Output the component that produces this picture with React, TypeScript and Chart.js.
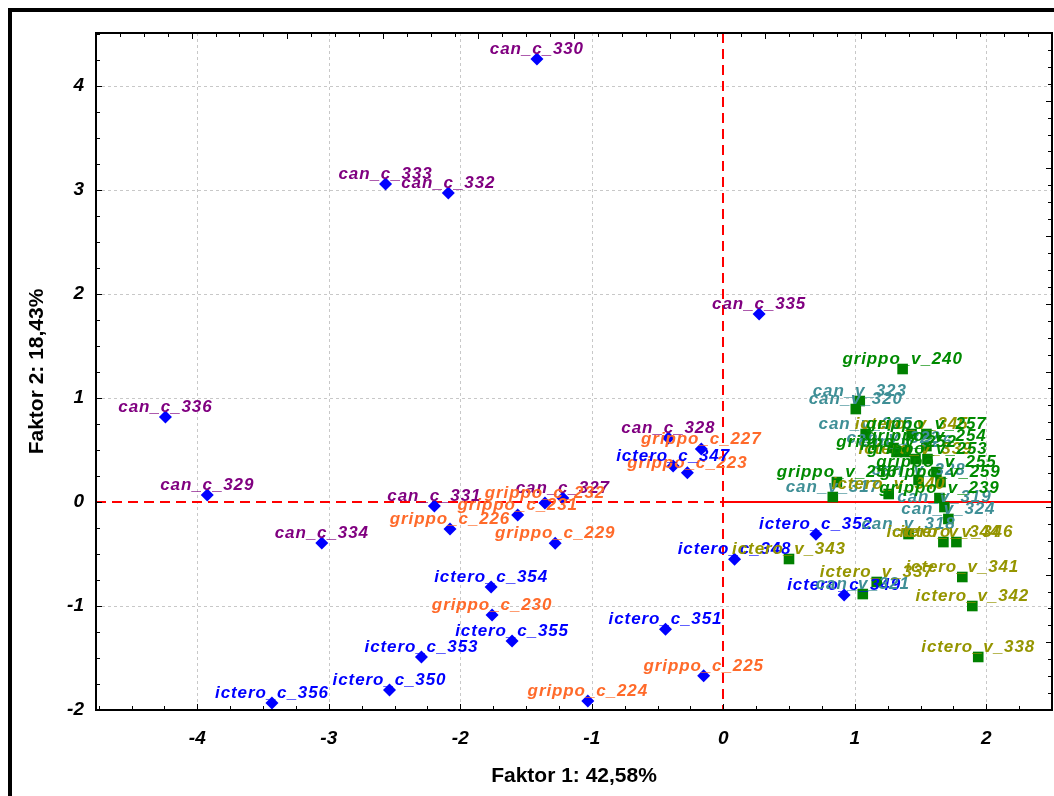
import React, { useEffect, useRef } from "react";
import { Chart, registerables } from "chart.js";

Chart.register(...registerables);

// ---- data ----
const canCLabels = ["can_c_327", "can_c_328", "can_c_329", "can_c_330", "can_c_331", "can_c_332", "can_c_333", "can_c_334", "can_c_335", "can_c_336"];
const canCX = [-1.22, -0.417, -3.924, -1.417, -2.197, -2.091, -2.568, -3.053, 0.273, -4.242];
const canCY = [0.038, 0.615, 0.067, 4.26, -0.038, 2.971, 3.058, -0.394, 1.808, 0.817];

const grippoCLabels = ["grippo_c_223", "grippo_c_224", "grippo_c_225", "grippo_c_226", "grippo_c_227", "grippo_c_229", "grippo_c_230", "grippo_c_231", "grippo_c_232"];
const grippoCX = [-0.273, -1.03, -0.149, -2.078, -0.167, -1.278, -1.758, -1.563, -1.356];
const grippoCY = [0.282, -1.913, -1.67, -0.26, 0.51, -0.397, -1.087, -0.125, -0.01];

const icteroCLabels = ["ictero_c_347", "ictero_c_348", "ictero_c_349", "ictero_c_350", "ictero_c_351", "ictero_c_352", "ictero_c_353", "ictero_c_354", "ictero_c_355", "ictero_c_356"];
const icteroCX = [-0.381, 0.086, 0.919, -2.538, -0.439, 0.705, -2.295, -1.765, -1.606, -3.432];
const icteroCY = [0.346, -0.551, -0.894, -1.808, -1.224, -0.311, -1.49, -0.817, -1.337, -1.933];

const grippoVLabels = ["grippo_v_239", "grippo_v_240", "grippo_v_252", "grippo_v_253", "grippo_v_254", "grippo_v_255", "grippo_v_256", "grippo_v_257", "grippo_v_259"];
const grippoVX = [1.644, 1.364, 1.318, 1.553, 1.545, 1.621, 0.864, 1.545, 1.652];
const grippoVY = [0.038, 1.279, 0.481, 0.413, 0.538, 0.288, 0.192, 0.654, 0.192];

const canVLabels = ["can_v_317", "can_v_318", "can_v_319", "can_v_320", "can_v_321", "can_v_322", "can_v_323", "can_v_324", "can_v_325", "can_v_326", "can_v_328"];
const canVX = [0.833, 1.409, 1.682, 1.008, 1.061, 1.295, 1.038, 1.712, 1.083, 1.386, 1.485];
const canVY = [0.048, -0.308, -0.048, 0.894, -0.885, 0.519, 0.971, -0.163, 0.654, 0.481, 0.212];

const icteroVLabels = ["ictero_v_337", "ictero_v_338", "ictero_v_339", "ictero_v_340", "ictero_v_341", "ictero_v_342", "ictero_v_343", "ictero_v_344", "ictero_v_345", "ictero_v_346"];
const icteroVX = [1.167, 1.939, 1.462, 1.258, 1.818, 1.894, 0.5, 1.674, 1.432, 1.773];
const icteroVY = [-0.769, -1.49, 0.413, 0.077, -0.721, -1.0, -0.548, -0.385, 0.654, -0.385];

const xTicks = [-4, -3, -2, -1, 0, 1, 2];
const yTicks = [-2, -1, 0, 1, 2, 3, 4];
const xTitle = "Faktor 1: 42,58%";
const yTitle = "Faktor 2: 18,43%";

// ---- styling ----
const C_MARK = "#0000ff";
const V_MARK = "#008000";
const LABEL_FONT = 'italic bold 17px "Liberation Sans", Arial, sans-serif';
const TICK_FONT = { family: '"Liberation Sans", Arial, sans-serif', size: 19, style: "italic" as const, weight: "bold" as const };

function makeSet(labels: string[], xs: number[], ys: number[], textColor: string, isC: boolean) {
  return {
    label: labels[0],
    data: xs.map((x, i) => ({ x, y: ys[i] })),
    names: labels,
    textColor,
    pointStyle: isC ? "rectRot" : "rect",
    pointRadius: isC ? 6.5 : 7.5,
    pointHoverRadius: isC ? 6.5 : 7.5,
    backgroundColor: isC ? C_MARK : V_MARK,
    borderWidth: 0,
  };
}

const framePlugin = {
  id: "framePlugin",
  beforeDatasetsDraw(chart: any) {
    const { ctx, chartArea: a, scales } = chart;
    const x = scales.x;
    const y = scales.y;
    ctx.save();
    ctx.strokeStyle = "#c8c8c8";
    ctx.lineWidth = 1;
    ctx.setLineDash([3, 3]);
    xTicks.forEach((v) => {
      if (v === 0) return;
      const px = Math.round(x.getPixelForValue(v)) + 0.5;
      ctx.beginPath();
      ctx.moveTo(px, a.top);
      ctx.lineTo(px, a.bottom);
      ctx.stroke();
    });
    yTicks.forEach((v) => {
      if (v === 0) return;
      const py = Math.round(y.getPixelForValue(v)) + 0.5;
      ctx.beginPath();
      ctx.moveTo(a.left, py);
      ctx.lineTo(a.right, py);
      ctx.stroke();
    });
    const x0 = Math.round(x.getPixelForValue(0));
    const y0 = Math.round(y.getPixelForValue(0));
    ctx.strokeStyle = "#ff0000";
    ctx.lineWidth = 2;
    ctx.setLineDash([10, 6]);
    ctx.beginPath();
    ctx.moveTo(x0, a.top);
    ctx.lineTo(x0, a.bottom);
    ctx.stroke();
    ctx.beginPath();
    ctx.moveTo(a.left, y0);
    ctx.lineTo(x0, y0);
    ctx.stroke();
    ctx.setLineDash([]);
    ctx.beginPath();
    ctx.moveTo(x0, y0);
    ctx.lineTo(a.right, y0);
    ctx.stroke();
    ctx.restore();
  },
  afterDatasetsDraw(chart: any) {
    const { ctx } = chart;
    ctx.save();
    ctx.font = LABEL_FONT;
    (ctx as any).letterSpacing = "0.9px";
    ctx.textAlign = "center";
    ctx.textBaseline = "alphabetic";
    chart.data.datasets.forEach((ds: any, di: number) => {
      const meta = chart.getDatasetMeta(di);
      ctx.fillStyle = ds.textColor;
      meta.data.forEach((pt: any, i: number) => {
        ctx.fillText(ds.names[i], pt.x, pt.y - 5);
      });
    });
    ctx.restore();
  },
  afterDraw(chart: any) {
    const { ctx, chartArea: a, scales } = chart;
    const x = scales.x;
    const y = scales.y;
    ctx.save();
    ctx.setLineDash([]);
    ctx.strokeStyle = "#000";
    ctx.lineWidth = 2;
    ctx.strokeRect(a.left, a.top, a.right - a.left, a.bottom - a.top);
    ctx.lineWidth = 1;
    for (let k = Math.ceil(x.min * 4); k <= Math.floor(x.max * 4); k++) {
      const v = k / 4;
      const px = Math.round(x.getPixelForValue(v)) + 0.5;
      const len = k % 4 === 0 ? 6 : 4;
      ctx.beginPath();
      ctx.moveTo(px, a.bottom);
      ctx.lineTo(px, a.bottom - len);
      ctx.stroke();
    }
    for (let k = Math.ceil(y.min * 4); k <= Math.floor(y.max * 4); k++) {
      const v = k / 4;
      const py = Math.round(y.getPixelForValue(v)) + 0.5;
      const len = k % 4 === 0 ? 6 : 4;
      ctx.beginPath();
      ctx.moveTo(a.left, py);
      ctx.lineTo(a.left + len, py);
      ctx.stroke();
    }
    const w = a.right - a.left;
    const h = a.bottom - a.top;
    for (let k = 0; k <= 40; k++) {
      const px = Math.round(a.left + (w * k) / 40) + 0.5;
      const len = k % 4 === 0 ? 6 : 4;
      ctx.beginPath();
      ctx.moveTo(px, a.top);
      ctx.lineTo(px, a.top + len);
      ctx.stroke();
      const py = Math.round(a.bottom - (h * k) / 40) + 0.5;
      ctx.beginPath();
      ctx.moveTo(a.right, py);
      ctx.lineTo(a.right - len, py);
      ctx.stroke();
    }
    ctx.fillStyle = "#000";
    ctx.font = 'bold 21px "Liberation Sans", Arial, sans-serif';
    ctx.textAlign = "center";
    ctx.textBaseline = "middle";
    ctx.fillText(xTitle, (a.left + a.right) / 2, 776);
    ctx.save();
    ctx.translate(37, (a.top + a.bottom) / 2);
    ctx.rotate(-Math.PI / 2);
    ctx.fillText(yTitle, 0, 0);
    ctx.restore();
    ctx.fillStyle = "#000";
    ctx.fillRect(8, 8, 1046, 4);
    ctx.fillRect(8, 8, 4, 788);
    ctx.restore();
  },
};

export default function App() {
  const ref = useRef<HTMLCanvasElement | null>(null);
  useEffect(() => {
    if (!ref.current) return;
    const chart = new Chart(ref.current, {
      type: "scatter",
      data: {
        datasets: [
          makeSet(canCLabels, canCX, canCY, "#800080", true),
          makeSet(grippoCLabels, grippoCX, grippoCY, "#ff6a2a", true),
          makeSet(icteroCLabels, icteroCX, icteroCY, "#0000ff", true),
          makeSet(canVLabels, canVX, canVY, "#3f8f96", false),
          makeSet(icteroVLabels, icteroVX, icteroVY, "#959500", false),
          makeSet(grippoVLabels, grippoVX, grippoVY, "#008a00", false),
        ] as any,
      },
      options: {
        responsive: false,
        devicePixelRatio: 1,
        animation: false,
        layout: { autoPadding: false, padding: { left: 0, right: 2, top: 33, bottom: 0 } },
        plugins: { legend: { display: false }, tooltip: { enabled: false }, title: { display: false } },
        scales: {
          x: {
            type: "linear",
            min: -4.77,
            max: 2.5,
            afterBuildTicks: (s: any) => {
              s.ticks = xTicks.map((v) => ({ value: v }));
            },
            afterFit: (s: any) => {
              s.height = 86;
              s.paddingLeft = 0;
              s.paddingRight = 0;
            },
            grid: { display: false, drawTicks: false },
            border: { display: false },
            ticks: { font: TICK_FONT, color: "#000", padding: 17, autoSkip: false, maxRotation: 0, callback: (v: any) => String(v) },
          },
          y: {
            type: "linear",
            min: -2,
            max: 4.51,
            afterBuildTicks: (s: any) => {
              s.ticks = yTicks.map((v) => ({ value: v }));
            },
            afterFit: (s: any) => {
              s.width = 96;
            },
            grid: { display: false, drawTicks: false },
            border: { display: false },
            ticks: { font: TICK_FONT, color: "#000", padding: 12, autoSkip: false, callback: (v: any) => String(v) },
          },
        },
      } as any,
      plugins: [framePlugin],
    });
    return () => chart.destroy();
  }, []);
  return (
    <div style={{ position: "absolute", left: 0, top: 0, width: 1054, height: 796 }}>
      <canvas ref={ref} width={1054} height={796} style={{ display: "block" }} />
    </div>
  );
}
